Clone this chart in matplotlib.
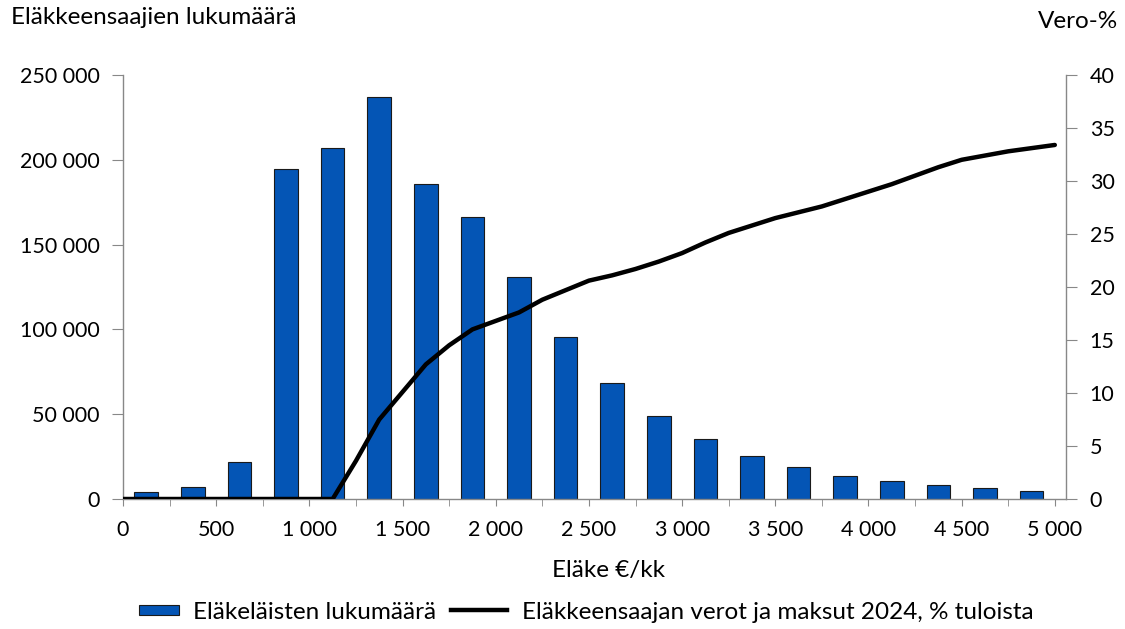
import matplotlib
matplotlib.use("Agg")
import matplotlib.pyplot as plt
from matplotlib.ticker import FuncFormatter, MultipleLocator
from matplotlib.lines import Line2D
from matplotlib.patches import Patch, Rectangle
from matplotlib.legend_handler import HandlerPatch

plt.rcParams['font.family'] = ['Lato', 'DejaVu Sans']

# Data
bin_centers = [125 + 250 * i for i in range(20)]
counts = [4100, 7100, 21600, 194500, 207200, 237300, 185600, 166400, 130800, 95500,
          68400, 49100, 35400, 25500, 18900, 13700, 10600, 8300, 6500, 4900]

tax_x = [0, 125, 250, 375, 500, 625, 750, 875, 1000, 1125, 1250, 1375, 1500, 1625, 1750,
         1875, 2000, 2125, 2250, 2375, 2500, 2625, 2750, 2875, 3000, 3125, 3250, 3375,
         3500, 3625, 3750, 3875, 4000, 4125, 4250, 4375, 4500, 4625, 4750, 4875, 5000]
tax_pct = [0, 0, 0, 0, 0, 0, 0, 0, 0, 0, 3.6, 7.5, 10.1, 12.7, 14.5,
           16.0, 16.8, 17.6, 18.8, 19.7, 20.6, 21.1, 21.7, 22.4, 23.2, 24.2, 25.1, 25.8,
           26.5, 27.05, 27.6, 28.3, 29.0, 29.7, 30.5, 31.3, 32.0, 32.4, 32.8, 33.1, 33.4]

bar_label = "Eläkeläisten lukumäärä"
line_label = "Eläkkeensaajan verot ja maksut 2024, % tuloista"

W, H = 1125, 629
fig = plt.figure(figsize=(W / 100, H / 100), dpi=100)
ax = fig.add_axes([123 / W, 1 - 499 / H, (1066 - 123) / W, (499 - 75) / H])
ax2 = ax.twinx()

bar_color = '#0455B5'
ax.bar(bin_centers, counts, width=127, color=bar_color, edgecolor='#1a1a1a', linewidth=0.8, zorder=2)
ax2.plot(tax_x, tax_pct, color='black', linewidth=3.2, solid_capstyle='round', zorder=3)

ax.set_xlim(0, 5060)
ax.set_ylim(0, 250000)
ax2.set_ylim(0, 40)

gray = '#888888'
fs_tick = 15.5
fs = 17.5
fmt = FuncFormatter(lambda v, p: f"{int(v):,}".replace(",", " "))
ax.xaxis.set_major_locator(MultipleLocator(500))
ax.xaxis.set_minor_locator(MultipleLocator(250))
ax.xaxis.set_major_formatter(fmt)
ax.yaxis.set_major_locator(MultipleLocator(50000))
ax.yaxis.set_major_formatter(fmt)
ax2.yaxis.set_major_locator(MultipleLocator(5))

for a in (ax, ax2):
    for s in a.spines.values():
        s.set_visible(False)
ax.spines['left'].set_visible(True)
ax.spines['bottom'].set_visible(True)
ax2.spines['right'].set_visible(True)
for s in (ax.spines['left'], ax.spines['bottom'], ax2.spines['right']):
    s.set_color(gray)
    s.set_linewidth(1.0)

ax.tick_params(axis='x', which='both', length=5, color=gray, labelsize=fs_tick, pad=10)
ax.tick_params(axis='y', length=8, color=gray, labelsize=fs_tick, pad=9)
ax2.tick_params(axis='y', length=8, color=gray, labelsize=fs_tick, pad=9)

fig.text(609 / W, 1 - 570 / H, "Eläke €/kk", fontsize=fs, ha='center', va='center')
fig.text(11 / W, 1 - 18 / H, "Eläkkeensaajien lukumäärä", fontsize=fs, ha='left', va='center')
fig.text(1118 / W, 1 - 22 / H, "Vero-%", fontsize=fs, ha='right', va='center')


def make_rect(legend, orig_handle, xdescent, ydescent, width, height, fontsize):
    w = width * 0.72
    h = height * 0.55
    return Rectangle((xdescent + (width - w), ydescent + (height - h) / 2), w, h)


handles = [Patch(facecolor=bar_color, edgecolor='#1a1a1a', linewidth=0.8),
           Line2D([0], [0], color='black', linewidth=3.2)]
fig.legend(handles, [bar_label, line_label], loc='center', bbox_to_anchor=(578 / W, 1 - 612 / H),
           ncol=2, frameon=False, fontsize=fs, handlelength=2.3, columnspacing=0.6, handletextpad=0.6,
           handler_map={Patch: HandlerPatch(patch_func=make_rect)})

fig.savefig("out.png", dpi=100)
